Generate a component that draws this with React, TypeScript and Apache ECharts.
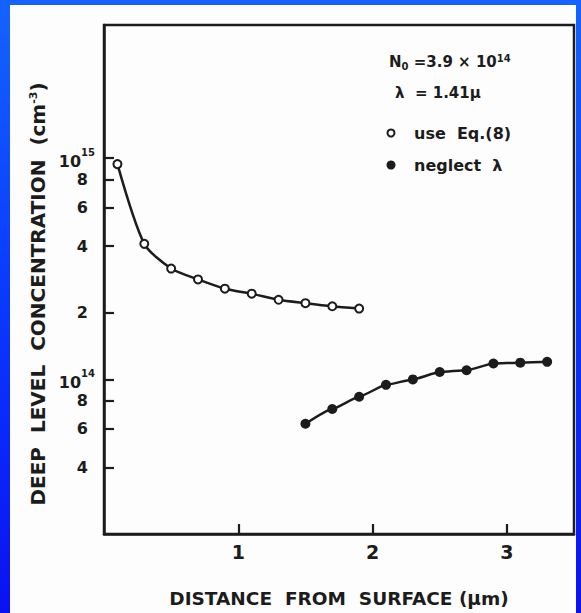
import React, { useEffect, useRef } from "react";
import * as echarts from "echarts";

// Deep-level concentration profiles (cm^-3) versus distance from surface (µm)
const eqDistance = [0.1, 0.3, 0.5, 0.7, 0.9, 1.1, 1.3, 1.5, 1.7, 1.9];
const eqConcentration = [9.4e14, 4.1e14, 3.17e14, 2.83e14, 2.57e14, 2.44e14, 2.29e14, 2.21e14, 2.14e14, 2.09e14];
const neglectDistance = [1.5, 1.7, 1.9, 2.1, 2.3, 2.5, 2.7, 2.9, 3.1, 3.3];
const neglectConcentration = [6.3e13, 7.35e13, 8.35e13, 9.45e13, 1.0e14, 1.08e14, 1.1e14, 1.18e14, 1.19e14, 1.2e14];

const xTicks = [1, 2, 3];
const yTicks = [4e13, 6e13, 8e13, 1e14, 2e14, 4e14, 6e14, 8e14, 1e15];

const INK = "#1c1c1c";
const FONT = "'DejaVu Sans', 'Liberation Sans', sans-serif";

function yLabel(v: number): string {
  const e = Math.floor(Math.log10(v) + 1e-9);
  const m = v / Math.pow(10, e);
  if (Math.abs(m - 1) < 1e-6) return `{b|10}{s|${e}}`;
  return `{d|${Math.round(m)}}`;
}

export default function App() {
  const ref = useRef<HTMLDivElement>(null);

  useEffect(() => {
    if (!ref.current) return;
    const chart = echarts.init(ref.current, undefined, { renderer: "svg" });
    const eqData = eqDistance.map((x, i) => [x, eqConcentration[i]]);
    const negData = neglectDistance.map((x, i) => [x, neglectConcentration[i]]);

    chart.setOption({
      animation: false,
      backgroundColor: "transparent",
      grid: {
        left: 104,
        right: 7,
        top: 25,
        bottom: 74,
        containLabel: false,
        show: true,
        borderColor: INK,
        borderWidth: 2.5,
        backgroundColor: "transparent",
      },
      xAxis: {
        type: "value",
        min: 0,
        max: 3.5,
        name: "DISTANCE  FROM  SURFACE (μm)",
        nameLocation: "middle",
        nameGap: 55,
        nameTextStyle: { color: INK, fontFamily: FONT, fontWeight: "bold", fontSize: 18.5 },
        axisLine: { show: true, lineStyle: { color: INK, width: 2.5 } },
        axisTick: { show: true, inside: true, length: 10, customValues: xTicks, lineStyle: { color: INK, width: 2.2 } },
        axisLabel: {
          show: true,
          customValues: xTicks,
          margin: 8,
          color: INK,
          fontFamily: FONT,
          fontWeight: "bold",
          fontSize: 19,
        },
        splitLine: { show: false },
      },
      yAxis: {
        type: "log",
        logBase: 10,
        min: 2e13,
        max: 4e15,
        axisLine: { show: true, lineStyle: { color: INK, width: 2.5 } },
        axisTick: { show: true, inside: true, length: 10, customValues: yTicks, lineStyle: { color: INK, width: 2.2 } },
        axisLabel: {
          show: true,
          customValues: yTicks,
          margin: 9,
          formatter: (v: number) => yLabel(v),
          rich: {
            b: { fontFamily: FONT, fontWeight: "bold", fontSize: 16, color: INK, lineHeight: 22, verticalAlign: "bottom" },
            s: { fontFamily: FONT, fontWeight: "bold", fontSize: 10, color: INK, lineHeight: 22, verticalAlign: "top", padding: [0, 0, 6, 0] },
            d: { fontFamily: FONT, fontWeight: "bold", fontSize: 16, color: INK, padding: [0, 7, 0, 0] },
          },
        },
        splitLine: { show: false },
        minorTick: { show: false },
      },
      series: [
        {
          name: "use Eq.(8)",
          type: "line",
          data: eqData,
          smooth: 0.25,
          symbol: "circle",
          symbolSize: 8,
          lineStyle: { color: INK, width: 2.5 },
          itemStyle: { color: "#ffffff", borderColor: INK, borderWidth: 2 },
          z: 3,
        },
        {
          name: "neglect λ",
          type: "line",
          data: negData,
          smooth: 0.15,
          smoothMonotone: "x",
          symbol: "circle",
          symbolSize: 10,
          lineStyle: { color: INK, width: 2.5 },
          itemStyle: { color: INK },
          z: 3,
        },
      ],
      graphic: [
        {
          type: "text",
          rotation: Math.PI / 2,
          x: 38,
          y: 294,
          style: {
            text: "DEEP  LEVEL  CONCENTRATION  (cm{s|-3})",
            fill: INK,
            font: `bold 20px ${FONT}`,
            align: "center",
            verticalAlign: "middle",
            rich: {
              s: { fontFamily: FONT, fontWeight: "bold", fontSize: 11, fill: INK, verticalAlign: "top", padding: [0, 0, 8, 0] },
            },
          },
        },
        {
          type: "text",
          x: 389,
          y: 62,
          style: {
            text: "N{sub|0} =3.9 × 10{sup|14}",
            fill: INK,
            font: `bold 15px ${FONT}`,
            verticalAlign: "middle",
            rich: {
              sub: { fontFamily: FONT, fontWeight: "bold", fontSize: 10, fill: INK, verticalAlign: "bottom", padding: [6, 0, 0, 0] },
              sup: { fontFamily: FONT, fontWeight: "bold", fontSize: 10, fill: INK, verticalAlign: "top", padding: [0, 0, 8, 0] },
            },
          },
        },
        {
          type: "text",
          x: 395,
          y: 93,
          style: { text: "λ  = 1.41μ", fill: INK, font: `bold 15px ${FONT}`, verticalAlign: "middle" },
        },
        {
          type: "circle",
          shape: { cx: 391, cy: 133, r: 3.5 },
          style: { fill: "#fff", stroke: INK, lineWidth: 2 },
        },
        {
          type: "text",
          x: 414,
          y: 133,
          style: { text: "use  Eq.(8)", fill: INK, font: `bold 16px ${FONT}`, verticalAlign: "middle" },
        },
        {
          type: "circle",
          shape: { cx: 391, cy: 165, r: 4.5 },
          style: { fill: INK },
        },
        {
          type: "text",
          x: 414,
          y: 165,
          style: { text: "neglect  λ", fill: INK, font: `bold 16px ${FONT}`, verticalAlign: "middle" },
        },
      ],
    });

    return () => chart.dispose();
  }, []);

  return (
    <div
      style={{
        position: "fixed",
        left: 0,
        top: 0,
        width: 581,
        height: 613,
        background: "linear-gradient(to bottom, #1463ff 0%, #0a3cff 45%, #0a12f2 100%)",
        overflow: "hidden",
      }}
    >
      <div style={{ position: "absolute", left: 10, top: 5, width: 566, height: 608, background: "#fdfdfd" }} />
      <div ref={ref} style={{ position: "absolute", left: 0, top: 0, width: 581, height: 613 }} />
    </div>
  );
}
